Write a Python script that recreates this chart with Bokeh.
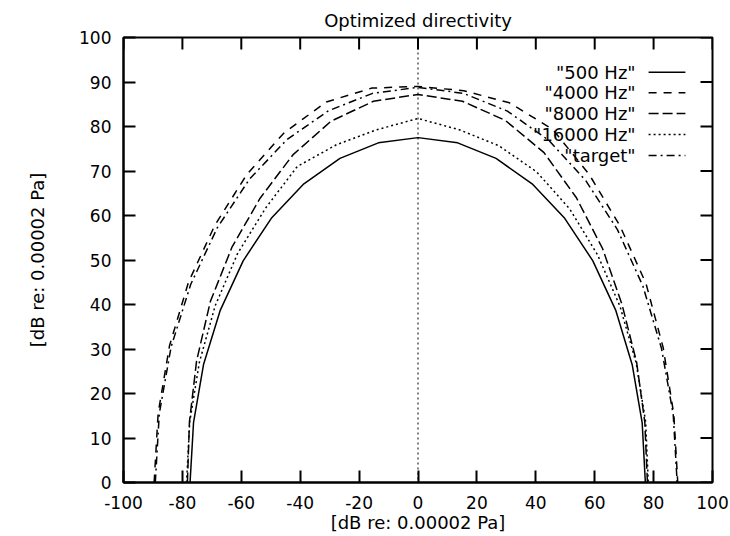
import numpy as np
from bokeh.plotting import figure
from bokeh.models import Span, FixedTicker, Range1d
from bokeh.core.properties import value
from bokeh.embed import file_html
from bokeh.resources import INLINE

# ---- data (polar directivity, angle from the vertical) ----
angle_deg = [-90, -80, -70, -60, -50, -40, -30, -20, -10, 0, 10, 20, 30, 40, 50, 60, 70, 80, 90]
r_500 = [77.4, 77.4, 77.5, 77.5, 77.5, 77.5, 77.5, 77.5, 77.5, 77.5, 77.5, 77.5, 77.5, 77.5, 77.5, 77.5, 77.4, 77.3, 77.2]
r_4000 = [89.6, 89.6, 89.8, 90.0, 90.0, 90.4, 90.8, 91.0, 90.0, 89.0, 89.4, 90.8, 91.6, 90.4, 89.6, 89.4, 88.6, 88.2, 88.2]
r_8000 = [78.3, 78.8, 80.0, 81.4, 82.4, 83.4, 85.0, 86.4, 87.0, 87.2, 87.0, 86.6, 85.6, 83.6, 81.8, 80.0, 79.0, 78.2, 77.9]
r_16000 = [78.6, 78.7, 79.0, 79.5, 80.0, 80.5, 82.0, 80.8, 80.5, 81.8, 80.5, 80.5, 80.6, 80.2, 79.6, 79.2, 78.8, 78.5, 78.2]
r_target = [89.2, 89.2, 89.2, 89.1, 89.0, 89.0, 89.0, 88.9, 88.8, 88.8, 88.8, 88.8, 88.8, 88.6, 88.4, 88.2, 88.0, 88.0, 88.0]

series_names = ['"500 Hz"', '"4000 Hz"', '"8000 Hz"', '"16000 Hz"', '"target"']
series_r = [r_500, r_4000, r_8000, r_16000, r_target]
series_dash = ["solid", "8 7", "10 4", "2 3", "8 4 2 4"]

x_ticks = [-100, -80, -60, -40, -20, 0, 20, 40, 60, 80, 100]
x_tick_labels = ["-100", "-80", "-60", "-40", "-20", "0", "20", "40", "60", "80", "100"]
y_ticks = [0, 10, 20, 30, 40, 50, 60, 70, 80, 90, 100]
y_tick_labels = ["0", "10", "20", "30", "40", "50", "60", "70", "80", "90", "100"]

title_text = "Optimized directivity"
axis_text = "[dB re: 0.00002 Pa]"

FONT = "DejaVu Sans"
TICK = "black"
X_MIN, X_MAX, Y_MIN, Y_MAX = -100, 100, 0, 100

p = figure(width=730, height=536, x_range=Range1d(X_MIN, X_MAX), y_range=Range1d(Y_MIN, Y_MAX),
           output_backend="svg", toolbar_location=None,
           min_border_left=123, min_border_right=18, min_border_top=37, min_border_bottom=54)
p.background_fill_color = "white"
p.border_fill_color = "white"
p.outline_line_color = "black"
p.outline_line_width = 2
p.outline_line_alpha = 1.0
p.grid.visible = False

p.title.text = title_text
p.title.align = "center"
p.title.text_font = FONT
p.title.text_font_size = "18px"
p.title.text_font_style = "normal"
p.title.text_color = "black"
p.title.standoff = 14


def style_axis(ax, ticks, labels, standoff):
    ax.ticker = FixedTicker(ticks=ticks)
    ax.major_tick_in = 12
    ax.major_tick_out = 0
    ax.minor_tick_line_color = None
    ax.axis_line_width = 2
    ax.axis_line_color = "black"
    ax.major_tick_line_width = 2
    ax.major_tick_line_color = TICK
    ax.major_label_text_font = FONT
    ax.major_label_overrides = {t: s for t, s in zip(ticks, labels)}
    ax.major_label_text_font_size = "17px"
    ax.major_label_text_color = "black"
    ax.major_label_standoff = standoff


style_axis(p.xaxis[0], x_ticks, x_tick_labels, 13)
style_axis(p.yaxis[0], y_ticks, y_tick_labels, 12)
for ax, st in ((p.xaxis[0], 0), (p.yaxis[0], 28)):
    ax.axis_label = axis_text
    ax.axis_label_text_font = FONT
    ax.axis_label_text_font_size = "18px"
    ax.axis_label_text_font_style = "normal"
    ax.axis_label_text_color = "black"
    ax.axis_label_standoff = st

# mirrored inward ticks on the top and right borders (gnuplot style)
tick_len_y = 12 * (Y_MAX - Y_MIN) / 445.0
tick_len_x = 12 * (X_MAX - X_MIN) / 589.0
p.segment(x0=x_ticks, y0=[Y_MAX] * len(x_ticks), x1=x_ticks, y1=[Y_MAX - tick_len_y] * len(x_ticks),
          line_color=TICK, line_width=2)
p.segment(x0=[X_MAX] * len(y_ticks), y0=y_ticks, x1=[X_MAX - tick_len_x] * len(y_ticks), y1=y_ticks,
          line_color=TICK, line_width=2)

# zero axis (dotted)
p.add_layout(Span(location=0, dimension="height", line_color="black", line_dash="2 3", line_width=1))

# curves
theta = np.radians(np.array(angle_deg, dtype=float))
for name, r, dash in zip(series_names, series_r, series_dash):
    r = np.array(r, dtype=float)
    p.line(r * np.sin(theta), r * np.cos(theta), line_color="black", line_width=1.5, line_dash=dash)

# gnuplot-style key: text, then line sample
key_text_x = 73.9
key_x0, key_x1 = 78.3, 90.8
key_y = [92.2, 87.6, 82.9, 78.2, 73.5]
for name, dash, ky in zip(series_names, series_dash, key_y):
    p.text(x=[key_text_x], y=[ky], text=[name], text_align="right", text_baseline="middle",
           text_font=value(FONT), text_font_size="18px", text_color="black")
    p.line([key_x0, key_x1], [ky, ky], line_color="black", line_width=1.5, line_dash=dash)

open("out.html", "w").write(file_html(p, INLINE))
